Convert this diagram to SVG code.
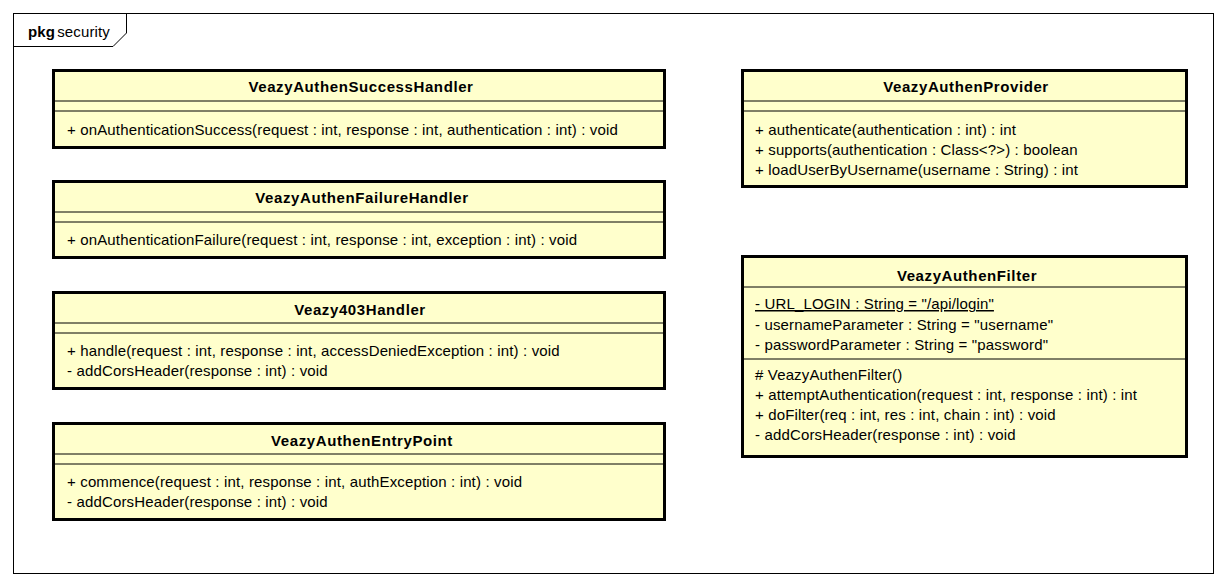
<svg xmlns="http://www.w3.org/2000/svg" width="1226" height="586" viewBox="0 0 1226 586">
<style>
text{font-family:"Liberation Sans",Arial,sans-serif;font-size:15px;letter-spacing:0.15px;fill:#000}
.t{font-weight:bold;text-anchor:middle;letter-spacing:0.6px}
.box{fill:#FFFFCC;stroke:#000;stroke-width:3}
.sep{stroke:#000;stroke-width:1;fill:none}
.frame{fill:#fff;stroke:#000;stroke-width:1}
</style>
<rect width="1226" height="586" fill="#fff"/>
<g id="pkg-security">
<rect class="frame" x="13.5" y="13.5" width="1200" height="560"/>
<path class="sep" d="M13.5,46.5 H113 L126.5,33 V13.5"/>
<text x="28" y="37"><tspan font-weight="bold">pkg</tspan><tspan dx="2">security</tspan></text>
</g>
<g id="VeazyAuthenSuccessHandler">
<rect class="box" x="53.5" y="70.5" width="611" height="77"/>
<line class="sep" x1="53" y1="101" x2="665" y2="101"/>
<line class="sep" x1="53" y1="111" x2="665" y2="111"/>
<text class="t" x="361" y="92">VeazyAuthenSuccessHandler</text>
<text x="67" y="135">+ onAuthenticationSuccess(request : int, response : int, authentication : int) : void</text>
</g>
<g id="VeazyAuthenFailureHandler">
<rect class="box" x="53.5" y="181.5" width="611" height="76"/>
<line class="sep" x1="53" y1="212" x2="665" y2="212"/>
<line class="sep" x1="53" y1="222" x2="665" y2="222"/>
<text class="t" x="362" y="203">VeazyAuthenFailureHandler</text>
<text x="67" y="245">+ onAuthenticationFailure(request : int, response : int, exception : int) : void</text>
</g>
<g id="Veazy403Handler">
<rect class="box" x="53.5" y="292.5" width="611" height="96"/>
<line class="sep" x1="53" y1="323" x2="665" y2="323"/>
<line class="sep" x1="53" y1="333" x2="665" y2="333"/>
<text class="t" x="360" y="315">Veazy403Handler</text>
<text x="67" y="356">+ handle(request : int, response : int, accessDeniedException : int) : void</text>
<text x="67" y="376">- addCorsHeader(response : int) : void</text>
</g>
<g id="VeazyAuthenEntryPoint">
<rect class="box" x="53.5" y="423.5" width="611" height="96"/>
<line class="sep" x1="53" y1="454" x2="665" y2="454"/>
<line class="sep" x1="53" y1="464" x2="665" y2="464"/>
<text class="t" x="362" y="446">VeazyAuthenEntryPoint</text>
<text x="67" y="487">+ commence(request : int, response : int, authException : int) : void</text>
<text x="67" y="507">- addCorsHeader(response : int) : void</text>
</g>
<g id="VeazyAuthenProvider">
<rect class="box" x="742.5" y="70.5" width="444" height="116"/>
<line class="sep" x1="742" y1="101" x2="1187" y2="101"/>
<line class="sep" x1="742" y1="111" x2="1187" y2="111"/>
<text class="t" x="966" y="92">VeazyAuthenProvider</text>
<text x="755" y="135">+ authenticate(authentication : int) : int</text>
<text x="755" y="155">+ supports(authentication : Class&lt;?&gt;) : boolean</text>
<text x="755" y="175">+ loadUserByUsername(username : String) : int</text>
</g>
<g id="VeazyAuthenFilter">
<rect class="box" x="742.5" y="256.5" width="444" height="200"/>
<line class="sep" x1="742" y1="287" x2="1187" y2="287"/>
<line class="sep" x1="742" y1="359" x2="1187" y2="359"/>
<text class="t" x="967" y="281">VeazyAuthenFilter</text>
<text x="755" y="309" text-decoration="underline">- URL_LOGIN : String = "/api/login"</text>
<text x="755" y="330">- usernameParameter : String = "username"</text>
<text x="755" y="350">- passwordParameter : String = "password"</text>
<text x="755" y="380"># VeazyAuthenFilter()</text>
<text x="755" y="400">+ attemptAuthentication(request : int, response : int) : int</text>
<text x="755" y="420">+ doFilter(req : int, res : int, chain : int) : void</text>
<text x="755" y="440">- addCorsHeader(response : int) : void</text>
</g>
<g id="connectors"></g>
</svg>
